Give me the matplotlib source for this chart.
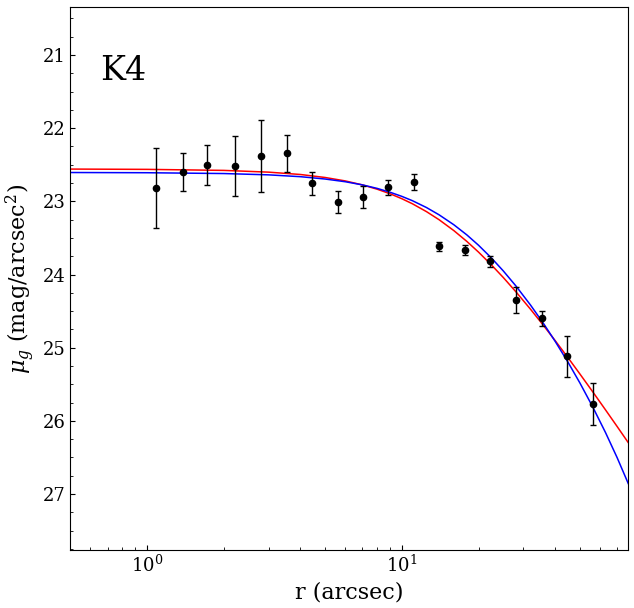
import matplotlib
matplotlib.use("Agg")
import matplotlib.pyplot as plt
from matplotlib.ticker import AutoMinorLocator

plt.rcParams['font.family'] = ['DejaVu Serif']
plt.rcParams['mathtext.fontset'] = 'dejavuserif'

# measured surface brightness profile
r_data = [1.085, 1.388, 1.724, 2.213, 2.81, 3.55, 4.45, 5.63, 7.05, 8.84,
          11.17, 14.0, 17.71, 22.2, 28.1, 35.5, 44.6, 56.3]
mu_data = [22.822, 22.603, 22.503, 22.517, 22.384, 22.343, 22.753, 23.013, 22.945, 22.808,
           22.740, 23.614, 23.669, 23.819, 24.352, 24.599, 25.118, 25.774]
mu_err = [0.547, 0.26, 0.274, 0.41, 0.49, 0.25, 0.16, 0.15, 0.148, 0.105,
          0.11, 0.06, 0.07, 0.072, 0.175, 0.103, 0.28, 0.287]

# model curves
r_model = [0.5, 1, 2, 3, 4, 5, 6, 7, 8, 9, 10, 11, 12.5, 14, 16, 18, 20, 22.5, 25, 28,
           32, 36, 40, 45, 50, 56, 63, 70, 77.4]
mu_red = [22.559, 22.563, 22.577, 22.601, 22.633, 22.674, 22.721, 22.775, 22.834, 22.897,
          22.964, 23.033, 23.141, 23.251, 23.400, 23.548, 23.694, 23.871, 24.040, 24.234,
          24.475, 24.698, 24.905, 25.142, 25.360, 25.598, 25.850, 26.078, 26.298]
mu_blue = [22.606, 22.609, 22.620, 22.638, 22.663, 22.695, 22.732, 22.775, 22.823, 22.876,
           22.932, 22.991, 23.085, 23.184, 23.320, 23.459, 23.600, 23.776, 23.950, 24.154,
           24.418, 24.671, 24.915, 25.205, 25.483, 25.803, 26.160, 26.504, 26.858]

fig = plt.figure(figsize=(6.34, 6.08), dpi=100)
ax = fig.add_axes([0.1109, 0.0954, 0.991 - 0.1109, 0.988 - 0.0954])
ax.plot(r_model, mu_red, color='red', lw=1.1, zorder=2)
ax.plot(r_model, mu_blue, color='blue', lw=1.1, zorder=2)
ax.errorbar(r_data, mu_data, yerr=mu_err, fmt='o', color='black', ms=4.5,
            elinewidth=1, capsize=2.5, zorder=3)
ax.set_xscale('log')
ax.set_xlim(0.5, 77.4)
ax.set_ylim(27.765, 20.348)
ax.yaxis.set_minor_locator(AutoMinorLocator(4))
ax.tick_params(which='both', direction='in', labelsize=13)
ax.set_xlabel('r (arcsec)', fontsize=16)
ax.set_ylabel(r'$\mu_g$ (mag/arcsec$^2$)', fontsize=16)
ax.text(0.053, 0.866, 'K4', transform=ax.transAxes, fontsize=24, ha='left', va='baseline')

fig.savefig('out.png', dpi=100)
